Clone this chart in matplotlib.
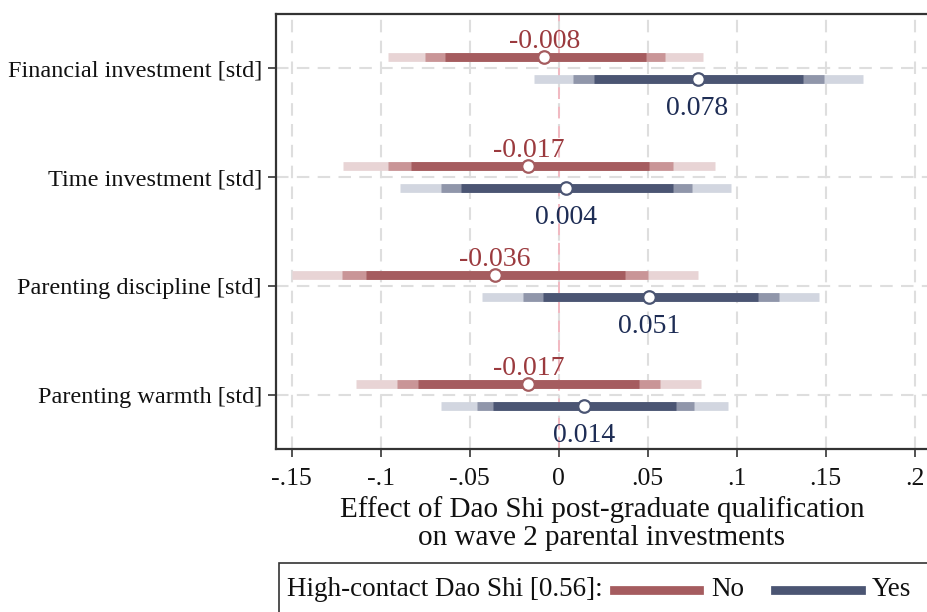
import matplotlib.pyplot as plt
from matplotlib.lines import Line2D
from matplotlib.patches import Rectangle

plt.rcParams["font.family"] = ["Liberation Serif", "DejaVu Serif"]

outcomes = [
    "Financial investment [std]",
    "Time investment [std]",
    "Parenting discipline [std]",
    "Parenting warmth [std]",
]

# point estimates and 90 / 95 / 99 % intervals
no_est = [-0.008, -0.017, -0.036, -0.017]
no_ci90 = [(-0.064, 0.049), (-0.083, 0.051), (-0.108, 0.037), (-0.079, 0.045)]
no_ci95 = [(-0.075, 0.060), (-0.096, 0.064), (-0.122, 0.050), (-0.091, 0.057)]
no_ci99 = [(-0.096, 0.081), (-0.121, 0.088), (-0.150, 0.078), (-0.114, 0.080)]

yes_est = [0.078, 0.004, 0.051, 0.014]
yes_ci90 = [(0.020, 0.137), (-0.055, 0.064), (-0.009, 0.112), (-0.037, 0.066)]
yes_ci95 = [(0.008, 0.149), (-0.066, 0.075), (-0.020, 0.124), (-0.046, 0.076)]
yes_ci99 = [(-0.014, 0.171), (-0.089, 0.097), (-0.043, 0.146), (-0.066, 0.095)]

xticks = [-0.15, -0.1, -0.05, 0, 0.05, 0.1, 0.15, 0.2]
xtick_labels = ["-.15", "-.1", "-.05", "0", ".05", ".1", ".15", ".2"]

legend_title = "High-contact Dao Shi [0.56]:"
group_labels = ["No", "Yes"]

red = {"dark": "#A55C5F", "mid": "#C99597", "light": "#E8D4D5", "text": "#9B3A3E"}
navy = {"dark": "#4B5573", "mid": "#9096AA", "light": "#D2D6E0", "text": "#1E2D55"}

fig = plt.figure(figsize=(9.28, 6.12), dpi=100)
ax = fig.add_axes([275.7 / 928, 163 / 612, 652.3 / 928, 435 / 612])

ypos = [4, 3, 2, 1]
offset = 0.101


def draw_group(ys, est, ci90, ci95, ci99, col, above):
    for y, e, c90, c95, c99 in zip(ys, est, ci90, ci95, ci99):
        ax.hlines(y, *c99, color=col["light"], lw=6.3, capstyle="butt", zorder=3)
        ax.hlines(y, *c95, color=col["mid"], lw=6.3, capstyle="butt", zorder=4)
        ax.hlines(y, *c90, color=col["dark"], lw=6.3, capstyle="butt", zorder=5)
        ax.plot(e, y, "o", ms=9, mfc="white", mec=col["dark"], mew=1.6, zorder=6)
        lbl = f"{e:.3f}"
        dy = 6.5 if above else -26
        ax.annotate(lbl, (e, y), xytext=(0, dy), textcoords="offset points",
                    ha="center", va="baseline", fontsize=20, color=col["text"], zorder=7)


draw_group([y + offset for y in ypos], no_est, no_ci90, no_ci95, no_ci99, red, True)
draw_group([y - offset for y in ypos], yes_est, yes_ci90, yes_ci95, yes_ci99, navy, False)

ax.axvline(0, color="#F2B9C2", lw=1.4, ls=(0, (6, 4)), zorder=2)

ax.set_xlim(-0.159, 0.2075)
ax.set_ylim(0.5, 4.5)
ax.set_xticks(xticks)
ax.set_xticklabels(xtick_labels, fontsize=18.5)
ax.set_yticks(ypos)
ax.set_yticklabels(outcomes, fontsize=17.5)
ax.grid(True, color="#DEDEDE", lw=1.5, ls=(0, (6, 4)), zorder=1)
ax.set_axisbelow(True)
ax.tick_params(axis="both", direction="out", length=6, width=1.3, color="#444444",
               labelcolor="#111111")
ax.tick_params(axis="x", pad=8)
ax.tick_params(axis="y", pad=4)

for side in ["left", "bottom", "top"]:
    ax.spines[side].set_color("#333333")
    ax.spines[side].set_linewidth(1.6)
ax.spines["right"].set_visible(False)

ax.set_xlabel("Effect of Dao Shi post-graduate qualification\non wave 2 parental investments",
              fontsize=21, linespacing=1.12, labelpad=4, color="#111111")

# legend box drawn in figure pixels
leg_y = (612 - 590) / 612
fig.patches.append(Rectangle((279 / 928, -0.05), 0.75, (612 - 563) / 612 + 0.05,
                             transform=fig.transFigure, fill=False, ec="#333333", lw=1.2))
fig.text(287 / 928, leg_y, legend_title, fontsize=19.5, va="center", ha="left",
         color="#111111")
fig.lines.append(Line2D([614 / 928, 699 / 928], [leg_y] * 2,
                        transform=fig.transFigure, color=red["dark"], lw=6.3))
fig.text(711 / 928, leg_y, group_labels[0], fontsize=19.5, va="center", ha="left",
         color="#111111")
fig.lines.append(Line2D([775 / 928, 861 / 928], [leg_y] * 2,
                        transform=fig.transFigure, color=navy["dark"], lw=6.3))
fig.text(872 / 928, leg_y, group_labels[1], fontsize=19.5, va="center", ha="left",
         color="#111111")

fig.savefig("out.png", dpi=100)
